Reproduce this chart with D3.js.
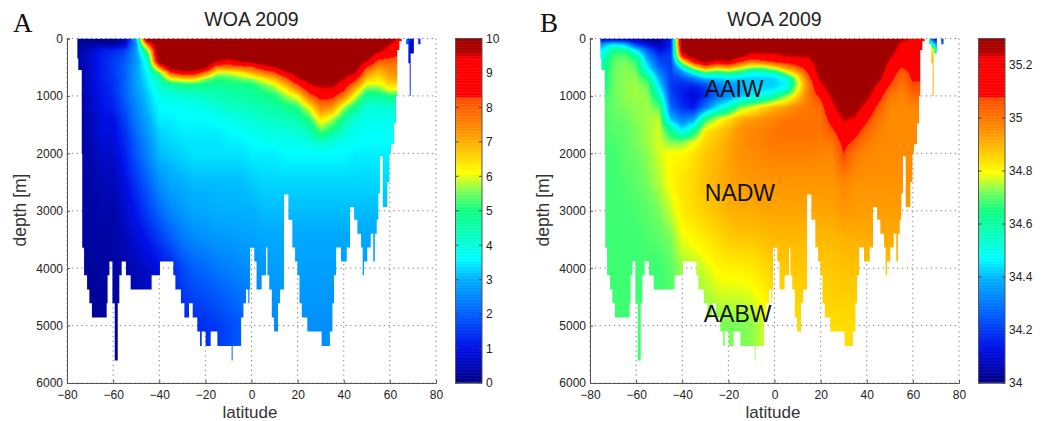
<!DOCTYPE html>
<html><head><meta charset="utf-8">
<script src="https://cdn.jsdelivr.net/npm/d3@7"></script>
<style>html,body{margin:0;background:#fff}svg{display:block}</style></head>
<body><svg id="c" width="1047" height="421"></svg>
<script>
const latitudes=[-75,-70,-65,-60,-55,-50,-45,-40,-35,-30,-25,-20,-15,-10,-5,0,5,10,15,20,25,30,35,40,45,50,55,60,65,67,69,71,73];
const depths=[0,100,200,300,400,500,600,700,800,900,1000,1200,1400,1600,1800,2000,2500,3000,3500,4000,5000,5600];
// one row per latitude, one value per depth
const temperature=[
[.2,.2,.3,.3,.3,.3,.3,.3,.3,.3,.3,.3,.3,.3,.3,.3,.3,.3,.3,.3,.3,.3],
[.1,.3,.6,.7,.7,.7,.7,.7,.7,.7,.6,.6,.5,.5,.4,.4,.3,.3,.3,.2,.2,.2],
[.1,.3,1.1,1.2,1.2,1.2,1.2,1.2,1.1,1.1,1.1,1,.9,.9,.8,.7,.5,.4,.3,.3,.2,.2],
[.1,.2,1.2,1.4,1.5,1.5,1.5,1.4,1.4,1.4,1.3,1.2,1,.9,.8,.7,.5,.35,.3,.3,.2,.2],
[.3,.7,1.5,1.8,1.9,2,2,2,2,2,2,1.8,1.6,1.4,1.3,1.2,.9,.7,.5,.4,.3,.3],
[3,2.7,2.7,2.7,2.7,2.8,2.8,2.8,2.8,2.7,2.7,2.5,2.4,2.2,2,1.9,1.5,1.1,.8,.5,.4,.4],
[11,8,5.7,4.6,4,3.8,3.6,3.5,3.4,3.3,3.2,3.1,2.9,2.8,2.6,2.5,2,1.6,1.1,.7,.5,.5],
[11,11,11,11,10.3,7.5,5.2,4.5,4.2,4,3.8,3.6,3.5,3.3,3.2,3.1,2.6,2.1,1.5,.9,.7,.7],
[11,11,11,11,11,10.5,8,6.2,4.7,4.2,3.9,3.7,3.5,3.4,3.3,3.2,2.9,2.5,1.9,1.2,1,1],
[11,11,11,11,11,10.7,9,6.5,5,4.5,4,3.7,3.6,3.5,3.4,3.3,3,2.7,2.3,1.7,1.2,1.2],
[11,11,11,11,11,10.7,9,6.7,5,4.5,4.1,3.7,3.6,3.5,3.4,3.4,3.1,2.9,2.5,2,1.3,1.3],
[11,11,11,11,10.8,10,7.7,5.6,4.9,4.6,4.3,3.8,3.6,3.5,3.4,3.4,3.1,2.9,2.6,2.1,1.4,1.4],
[11,11,11,10.5,9.6,7.6,5.9,5.1,4.8,4.5,4.4,4,3.7,3.5,3.4,3.4,3.1,3,2.7,2.3,1.5,1.5],
[11,11,11,10.5,9,7.7,5.9,5.2,4.9,4.7,4.5,4.2,3.8,3.6,3.5,3.4,3.1,3,2.7,2.4,1.7,1.7],
[11,11,11,10.7,9.6,7.9,6.2,5.5,4.9,4.7,4.6,4.3,3.9,3.7,3.5,3.4,3.1,3,2.8,2.5,1.9,1.9],
[11,11,11,10.8,10,8.1,6.9,5.7,5,4.8,4.7,4.3,4.1,3.8,3.6,3.5,3.2,3,2.8,2.6,2.2,2.2],
[11,11,11,11,10.4,9,7.5,6.3,5.5,5.1,4.9,4.5,4.2,3.9,3.7,3.5,3.3,3.1,2.9,2.7,2.4,2.4],
[11,11,11,11,10.8,9.6,8.1,6.9,6,5.5,5,4.6,4.3,4,3.7,3.5,3.3,3.1,2.9,2.8,2.5,2.5],
[11,11,11,11,11,10.3,9.4,8,7,6.2,5.7,4.8,4.4,4,3.8,3.6,3.3,3.1,2.9,2.8,2.6,2.6],
[11,11,11,11,11,10.5,10.1,9.5,8.3,7.3,6.2,5.1,4.5,4.1,3.8,3.6,3.3,3.1,2.9,2.8,2.6,2.6],
[11,11,11,11,11,11,10.5,10,9.5,8.7,7.9,6.1,5.1,4.4,3.9,3.6,3.3,3.1,2.9,2.8,2.6,2.6],
[11,11,11,11,11,11,10.5,10.2,9.8,9.3,8.7,7.6,6.4,5.4,4.3,3.6,3.3,3.1,2.9,2.8,2.6,2.6],
[11,11,11,11,11,11,10.5,10.2,9.8,9.3,8.6,7.3,5.8,4.9,4,3.6,3.3,3.1,2.9,2.8,2.6,2.6],
[11,11,11,11,11,10.5,10,9.6,9.1,8.4,7.6,5.7,4.8,4.1,3.7,3.6,3.3,3.1,2.9,2.8,2.6,2.6],
[11,11,11,11,10.6,10.2,9.6,8.7,7.6,6.7,6,4.8,4,3.8,3.7,3.5,3.3,3.1,2.9,2.8,2.6,2.6],
[11,11,10.8,10.3,9.5,8.3,7.4,6.7,6,5.3,4.7,4,3.8,3.7,3.6,3.5,3.3,3.1,2.9,2.8,2.6,2.6],
[11,10.6,10,8.9,8,7.3,6.7,6.3,6,5.3,4.7,4,3.8,3.7,3.6,3.5,3.3,3.1,2.9,2.8,2.6,2.6],
[10.4,9.5,9,8.5,8,7.5,7.3,7,6.5,6,5,4.1,3.8,3.7,3.6,3.5,3.3,3.1,2.9,2.8,2.6,2.6],
[9,8.8,8.5,8.2,8,7.6,7.3,7,6.5,6,5,4.1,3.8,3.7,3.6,3.5,3.3,3.1,2.9,2.8,2.6,2.6],
[3,2.5,2,2,2,2,2,2,2,2,2,2,2,2,2,2,2,2,2,2,2,2],
[.7,.7,.7,.7,.7,.7,.7,.7,.7,1.2,1.5,1.5,1.5,1.5,1.5,1.5,1.5,1.5,1.5,1.5,1.5,1.5],
[.7,.7,.7,.7,.7,.7,.7,.7,.7,.7,.7,.7,.7,.7,.7,.7,.7,.7,.7,.7,.7,.7],
[1.5,1.5,1.5,1.5,1.5,1.5,1.5,1.5,1.5,1.5,1.5,1.5,1.5,1.5,1.5,1.5,1.5,1.5,1.5,1.5,1.5,1.5]
];
const salinity=[
[34.05,34.35,34.45,34.5,34.55,34.58,34.6,34.6,34.62,34.64,34.66,34.68,34.68,34.68,34.68,34.68,34.68,34.68,34.68,34.68,34.68,34.68],
[34.05,34.45,34.62,34.68,34.7,34.7,34.71,34.71,34.71,34.71,34.71,34.71,34.7,34.7,34.69,34.68,34.68,34.68,34.68,34.68,34.68,34.68],
[34.05,34.4,34.62,34.7,34.72,34.73,34.73,34.73,34.73,34.73,34.73,34.72,34.71,34.7,34.7,34.7,34.69,34.68,34.68,34.68,34.68,34.68],
[34.02,34.2,34.45,34.6,34.67,34.7,34.72,34.73,34.74,34.74,34.74,34.73,34.73,34.72,34.72,34.71,34.7,34.69,34.68,34.68,34.68,34.68],
[34.02,34.1,34.25,34.33,34.4,34.45,34.55,34.65,34.7,34.72,34.73,34.74,34.74,34.74,34.74,34.73,34.72,34.7,34.69,34.68,34.68,34.68],
[34.02,34.05,34.12,34.18,34.22,34.26,34.32,34.38,34.43,34.5,34.58,34.7,34.76,34.77,34.77,34.77,34.75,34.72,34.7,34.68,34.68,34.68],
[34.15,34.15,34.18,34.2,34.2,34.2,34.2,34.2,34.2,34.2,34.22,34.28,34.4,34.62,34.72,34.8,34.8,34.76,34.72,34.7,34.68,34.68],
[35.4,35.4,35.3,35.15,34.8,34.5,34.32,34.22,34.17,34.15,34.15,34.18,34.3,34.45,34.72,34.8,34.83,34.82,34.78,34.74,34.7,34.7],
[35.4,35.4,35.4,35.35,35.15,34.8,34.5,34.3,34.18,34.12,34.1,34.14,34.35,34.6,34.78,34.83,34.85,34.84,34.8,34.75,34.71,34.71],
[35.4,35.4,35.4,35.35,35.3,35,34.65,34.4,34.24,34.18,34.17,34.3,34.65,34.82,34.85,34.87,34.88,34.86,34.82,34.77,34.72,34.72],
[35.4,35.4,35.4,35.35,35.2,34.9,34.6,34.42,34.32,34.28,34.28,34.45,34.76,34.86,34.88,34.89,34.9,34.88,34.84,34.8,34.72,34.72],
[35.4,35.4,35.4,35.35,35.25,34.95,34.65,34.45,34.35,34.32,34.33,34.55,34.83,34.9,34.91,34.92,34.92,34.9,34.86,34.81,34.72,34.72],
[35.4,35.4,35.4,35.3,35.1,34.85,34.6,34.42,34.38,34.38,34.4,34.72,34.9,34.95,34.95,34.95,34.93,34.91,34.87,34.81,34.72,34.72],
[35.4,35.35,35.28,35.2,35,34.75,34.5,34.42,34.42,34.43,34.45,34.78,34.93,34.97,34.97,34.96,34.94,34.91,34.87,34.82,34.73,34.73],
[35.4,35.35,35.3,35.2,35.05,34.75,34.5,34.42,34.42,34.44,34.5,34.85,34.95,34.98,34.98,34.97,34.94,34.92,34.88,34.84,34.76,34.76],
[35.4,35.35,35.3,35.2,35.1,34.85,34.55,34.43,34.42,34.46,34.6,34.9,34.97,35,35,34.98,34.94,34.92,34.89,34.86,34.82,34.82],
[35.4,35.35,35.32,35.25,35.15,34.95,34.75,34.5,34.46,34.55,34.72,34.93,35,35.01,35,34.98,34.94,34.92,34.89,34.87,34.84,34.84],
[35.4,35.35,35.3,35.25,35.17,35.05,34.9,34.78,34.75,34.8,34.85,34.98,35,35.01,35,34.98,34.94,34.92,34.89,34.87,34.84,34.84],
[35.4,35.35,35.3,35.26,35.2,35.15,35.1,35.05,35,35,35,35,35,35.01,35,34.98,34.94,34.92,34.89,34.87,34.84,34.84],
[35.4,35.4,35.38,35.36,35.34,35.32,35.3,35.27,35.22,35.17,35.1,35.03,35,35,34.99,34.97,34.94,34.92,34.89,34.87,34.84,34.84],
[35.4,35.4,35.4,35.4,35.38,35.35,35.33,35.31,35.3,35.3,35.26,35.2,35.13,35.06,35,34.97,34.94,34.92,34.89,34.87,34.84,34.84],
[35.4,35.4,35.4,35.4,35.4,35.4,35.4,35.4,35.38,35.36,35.35,35.32,35.25,35.17,35.11,35.08,34.97,34.94,34.9,34.88,34.84,34.84],
[35.4,35.4,35.4,35.4,35.4,35.4,35.4,35.4,35.38,35.37,35.36,35.3,35.22,35.12,35.06,34.99,34.95,34.93,34.9,34.88,34.84,34.84],
[35.4,35.4,35.4,35.4,35.4,35.4,35.38,35.36,35.35,35.32,35.28,35.18,35.1,35.03,34.99,34.97,34.95,34.93,34.91,34.88,34.85,34.85],
[35.4,35.4,35.4,35.4,35.38,35.35,35.32,35.28,35.22,35.17,35.13,35.05,35,34.98,34.97,34.96,34.95,34.93,34.91,34.88,34.85,34.85],
[35.4,35.37,35.32,35.27,35.22,35.18,35.14,35.11,35.08,35.04,35,34.97,34.96,34.96,34.96,34.96,34.95,34.93,34.91,34.88,34.85,34.85],
[35.28,35.2,35.17,35.14,35.11,35.08,35.04,35.02,35,34.98,34.97,34.96,34.96,34.96,34.96,34.96,34.95,34.93,34.91,34.88,34.85,34.85],
[35.22,35.2,35.18,35.16,35.14,35.12,35.1,35.09,35.07,35.05,35.02,34.97,34.96,34.96,34.96,34.96,34.95,34.93,34.91,34.88,34.85,34.85],
[35.2,35.2,35.18,35.16,35.14,35.12,35.1,35.09,35.07,35.05,35.02,34.97,34.96,34.96,34.96,34.96,34.95,34.93,34.91,34.88,34.85,34.85],
[34.45,34.75,34.85,34.9,34.9,34.9,34.9,34.9,34.9,34.9,34.9,34.9,34.9,34.9,34.9,34.9,34.9,34.9,34.9,34.9,34.9,34.9],
[34.1,34.5,34.8,34.85,34.88,34.9,34.92,34.92,34.92,34.92,34.92,34.92,34.92,34.92,34.92,34.92,34.92,34.92,34.92,34.92,34.92,34.92],
[34.1,34.2,34.3,34.3,34.3,34.3,34.3,34.3,34.3,34.3,34.3,34.3,34.3,34.3,34.3,34.3,34.3,34.3,34.3,34.3,34.3,34.3],
[34.2,34.3,34.3,34.3,34.3,34.3,34.3,34.3,34.3,34.3,34.3,34.3,34.3,34.3,34.3,34.3,34.3,34.3,34.3,34.3,34.3,34.3]
];
// sea floor: step starts at bottomLat, depth of deepest cell in bottomDepth
const bottomLat=[-75.5,-75.1,-73.6,-73.4,-72.6,-71.3,-70.3,-69.2,-62.8,-62.4,-61.6,-60.3,-59.3,-58,-57.3,-56.3,-54.4,-52.4,-43.3,-39.7,-33.9,-33,-30.6,-29.1,-27.1,-25.5,-23.5,-22.3,-21.6,-19.9,-17.7,-14.8,-8.6,-8.2,-4.5,-3.5,-2.4,-1.4,-.9,-.6,1.2,2.2,4.4,6.3,6.9,7.7,8.8,9.8,11.5,12.4,14.1,16,17.7,18.9,19.9,20.8,21.8,24.2,30.4,34,35.1,35.8,36.7,38.8,41.3,42.7,44.5,45.9,47.5,48.2,48.8,50.2,51.7,52.8,53.5,54.3,55,55.7,56.9,58.9,59.8,60.5,61.8,62.7,63.2,64.1,65.1,67,68,68.6,69,70.4,72.3,73.3];
const bottomDepth=[350,550,2000,3645,4125,4370,4610,4860,4610,4125,3884,4610,5610,4610,4125,3884,4125,4370,4125,3884,4125,4370,4610,4860,4610,4860,5105,5355,5105,5355,5105,5355,5610,5355,4860,4610,4370,4610,4370,3645,3884,4370,4125,3640,4125,4370,4860,5105,4610,4370,2715,3157,3640,3884,4125,4610,4860,5105,5355,5105,4610,4125,3640,3884,3640,2936,3157,3400,3640,4125,3884,3640,3400,3884,3400,3157,2700,2050,2936,2500,2000,1840,1480,1000,200,50,0,100,430,1000,260,0,100,0];
const xTicks=[-80,-60,-40,-20,0,20,40,60,80];
const yTicks=[0,1000,2000,3000,4000,5000,6000];
const tempTicks=[0,1,2,3,4,5,6,7,8,9,10];
const salTicks=[34,34.2,34.4,34.6,34.8,35,35.2];
const stopFractions=[0,.1,.2,.3,.36,.5,.55,.61,.72,.8299,.83,.94,.96,1];
const stopColors=["#000085","#0010e8","#0060ff","#00b0ff","#00ffff","#10ff80","#70ff60","#ffff00","#ff9900","#ff4a00","#ff0000","#ff0000","#b00000","#a00000"];

const H=d3.scaleLinear().domain(stopFractions).range(stopColors).clamp(true);
const svg=d3.select("#c");
const FONT="'Liberation Sans',Arial,sans-serif";
const defs=svg.append("defs");

function panel(o){
  const x=d3.scaleLinear().domain([-80,80]).range([o.left,o.left+369]);
  const y=d3.scaleLinear().domain([0,6000]).range([38.5,383]);
  const color=d3.scaleLinear().domain(o.domain).range([0,1]).clamp(true);
  const g=svg.append("g");
  const grid=g.append("g").attr("stroke","#777").attr("stroke-width",1).attr("stroke-dasharray","1.2,3.6").attr("fill","none");
  grid.selectAll("line.v").data(xTicks).join("line").attr("x1",d=>x(d)).attr("x2",d=>x(d)).attr("y1",y(0)).attr("y2",y(6000));
  grid.selectAll("line.h").data(yTicks).join("line").attr("x1",x(-80)).attr("x2",x(80)).attr("y1",d=>y(d)).attr("y2",d=>y(d));
  const w=369,h=345;
  const cv=document.createElement("canvas");cv.width=w;cv.height=h;
  const ctx=cv.getContext("2d");const img=ctx.createImageData(w,h);
  for(let j=0;j<h;j++){
    const d=y.invert(38.5+j+.5);
    let r=Math.min(d3.bisectRight(depths,d)-1,depths.length-2);
    const fd=Math.min(1,(d-depths[r])/(depths[r+1]-depths[r]));
    for(let i=0;i<w;i++){
      const la=x.invert(o.left+i+.5);
      let c=Math.max(0,Math.min(d3.bisectRight(latitudes,la)-1,latitudes.length-2));
      const fl=Math.max(0,Math.min(1,(la-latitudes[c])/(latitudes[c+1]-latitudes[c])));
      const m=o.values;
      const v=(m[c][r]*(1-fd)+m[c][r+1]*fd)*(1-fl)+(m[c+1][r]*(1-fd)+m[c+1][r+1]*fd)*fl;
      const q=d3.rgb(H(color(v)));const k=(j*w+i)*4;
      img.data[k]=q.r;img.data[k+1]=q.g;img.data[k+2]=q.b;img.data[k+3]=255;
    }
  }
  ctx.putImageData(img,0,0);
  const area=d3.area().curve(d3.curveStepAfter).x(d=>x(d[0])).y0(y(0)).y1(d=>y(d[1]));
  defs.append("clipPath").attr("id","sea"+o.id).append("path").attr("d",area(bottomLat.map((l,i)=>[l,bottomDepth[i]])));
  g.append("image").attr("x",o.left).attr("y",38.5).attr("width",w).attr("height",h)
    .attr("href",cv.toDataURL()).attr("clip-path",`url(#sea${o.id})`);
  const ax=g.append("g").attr("transform",`translate(0,${y(6000)})`).call(d3.axisBottom(x).tickValues(xTicks).tickSize(-3).tickPadding(7).tickFormat(d3.format("d")));
  const ay=g.append("g").attr("transform",`translate(${x(-80)},0)`).call(d3.axisLeft(y).tickValues(yTicks).tickSize(-3).tickPadding(4).tickFormat(d3.format("d")));
  [ax,ay].forEach(a=>{a.selectAll("text").attr("font-family",FONT).attr("font-size",12).attr("fill","#222");
    a.selectAll("line,path").attr("stroke","#555");});
  ax.selectAll("text").attr("dy",".71em");
  g.append("text").attr("x",o.left+184.5).attr("y",26).attr("text-anchor","middle").attr("font-family",FONT).attr("font-size",19.5).attr("fill","#222").text("WOA 2009");
  g.append("text").attr("x",o.left+183).attr("y",418).attr("text-anchor","middle").attr("font-family",FONT).attr("font-size",17).attr("fill","#333").text("latitude");
  g.append("text").attr("transform",`translate(${o.left-41},210) rotate(-90)`).attr("text-anchor","middle").attr("font-family",FONT).attr("font-size",17.5).attr("fill","#333").text("depth [m]");
  g.append("text").attr("x",o.left-o.letterGap).attr("y",32).attr("font-family","'Liberation Serif',serif").attr("font-size",27).attr("fill","#111").text(o.id);
  const cb=d3.scaleLinear().domain(o.domain).range([383,38.5]);
  const barX=o.left+388.5,barW=26.5;
  const bands=d3.range(0,1,1/230);
  g.append("g").selectAll("rect").data(bands).join("rect")
    .attr("x",barX).attr("width",barW)
    .attr("y",t=>cb(o.domain[0]+(t+1/230)*(o.domain[1]-o.domain[0])))
    .attr("height",345/230+.4).attr("fill",t=>H(t));
  g.append("rect").attr("x",barX).attr("y",38.5).attr("width",barW).attr("height",344.5).attr("fill","none").attr("stroke","#555");
  const ar=g.append("g").attr("transform",`translate(${barX+barW},0)`).call(d3.axisRight(cb).tickValues(o.ticks).tickSize(0).tickPadding(4).tickFormat(d=>String(d)));
  ar.select("path").remove();
  ar.selectAll("text").attr("font-family",FONT).attr("font-size",12).attr("fill","#222");
  const tk=g.append("g").attr("stroke","#444");
  tk.selectAll("line.a").data(o.ticks).join("line").attr("x1",barX).attr("x2",barX+3).attr("y1",d=>cb(d)).attr("y2",d=>cb(d));
  tk.selectAll("line.b").data(o.ticks).join("line").attr("class","b").attr("x1",barX+barW-3).attr("x2",barX+barW).attr("y1",d=>cb(d)).attr("y2",d=>cb(d));
  return {x,y,g};
}
panel({id:"A",left:67,letterGap:54,domain:[0,10],values:temperature,ticks:tempTicks});
const pb=panel({id:"B",left:590,letterGap:50,domain:[34,35.3],values:salinity,ticks:salTicks});
const waterMasses=[["AAIW",-17.5,880],["NADW",-15,2680],["AABW",-16,4800]];
pb.g.selectAll("text.wm").data(waterMasses).join("text").attr("class","wm")
  .attr("x",d=>pb.x(d[1])).attr("y",d=>pb.y(d[2])).attr("text-anchor","middle").attr("dy",".36em")
  .attr("font-family",FONT).attr("font-size",23).attr("fill","#111").text(d=>d[0]);
</script></body></html>
